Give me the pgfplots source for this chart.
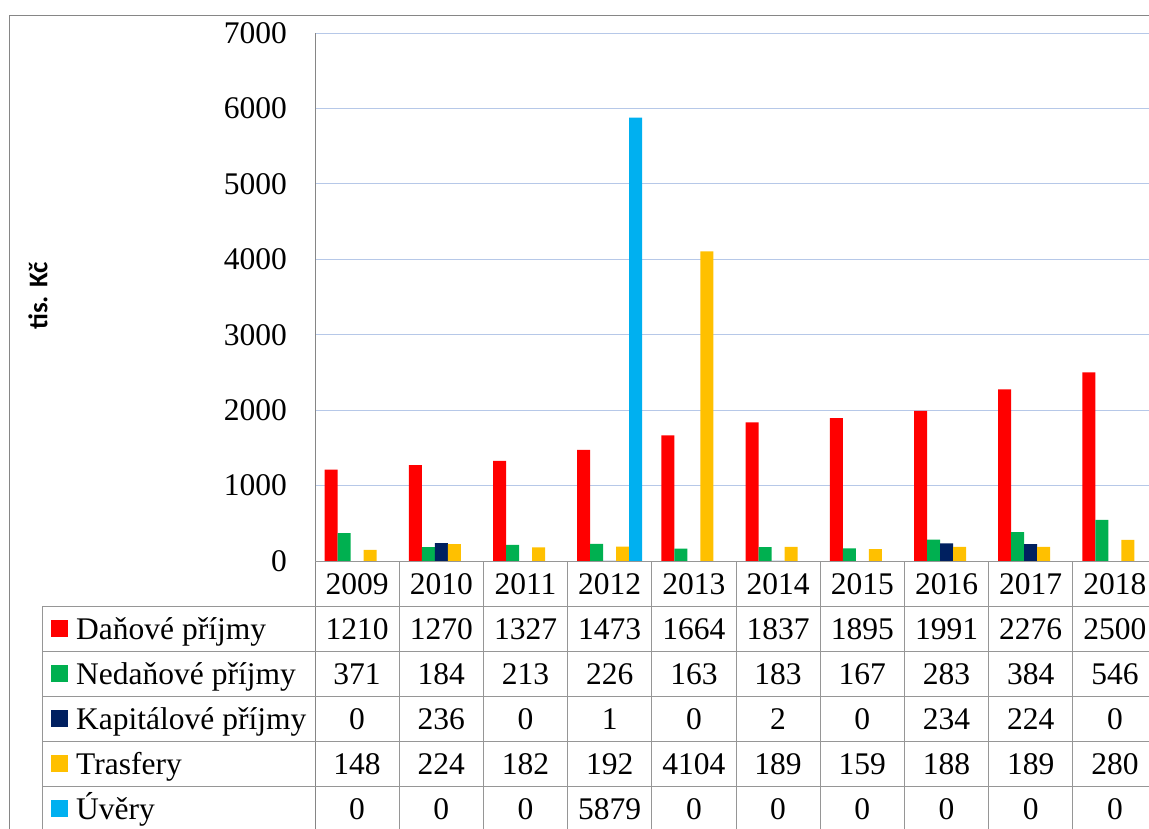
\documentclass[border=0pt]{standalone}
\usepackage{pgfplots}
\pgfplotsset{compat=1.18}
\usepackage{pgfplotstable}
\usepackage{fontspec}
\setmainfont{Liberation Serif}
\newfontfamily\calibri{Carlito}

\definecolor{cDan}{HTML}{FF0000}
\definecolor{cNed}{HTML}{00B050}
\definecolor{cKap}{HTML}{002060}
\definecolor{cTra}{HTML}{FFC000}
\definecolor{cUve}{HTML}{00B0F0}
\definecolor{gridc}{RGB}{182,200,232}
\definecolor{linec}{RGB}{150,150,150}
\definecolor{framec}{RGB}{134,134,134}

\pgfplotstableread{
year dan nedan kap tras uver
2009 1210 371 0 148 0
2010 1270 184 236 224 0
2011 1327 213 0 182 0
2012 1473 226 1 192 5879
2013 1664 163 0 4104 0
2014 1837 183 2 189 0
2015 1895 167 0 159 0
2016 1991 283 234 188 0
2017 2276 384 224 189 0
2018 2500 546 0 280 0
}\datatab

\newcommand\tfont{\fontsize{31.5bp}{38bp}\selectfont}

\begin{document}
\begin{tikzpicture}
% outer frame
\draw[framec, line width=1bp] (9bp,-1000bp) -- (9bp,-15bp) -- (1300bp,-15bp);

\begin{axis}[at={(315bp,-561bp)}, anchor=south west, scale only axis,
  width=842bp, height=528bp,
  xmin=-0.5, xmax=9.5, ymin=0, ymax=7000,
  ytick={0,1000,...,7000}, xtick=\empty,
  ymajorgrids, grid style={gridc, line width=1bp},
  axis line style={draw=none}, major tick length=0pt,
  ybar=0pt, bar width=13bp,
  yticklabel style={font=\tfont, inner sep=0pt, anchor=east, xshift=-28bp},
  /pgf/number format/1000 sep={}, /pgf/number format/assume math mode=true,
  clip=false]
\addplot[fill=cDan, draw=none] table[x expr=\coordindex, y=dan]{\datatab};
\addplot[fill=cNed, draw=none] table[x expr=\coordindex, y=nedan]{\datatab};
\addplot[fill=cKap, draw=none] table[x expr=\coordindex, y=kap]{\datatab};
\addplot[fill=cTra, draw=none] table[x expr=\coordindex, y=tras]{\datatab};
\addplot[fill=cUve, draw=none] table[x expr=\coordindex, y=uver]{\datatab};
\end{axis}

\begin{axis}[at={(315bp,-561bp)}, anchor=north west, scale only axis,
  width=842bp, height=270bp,
  xmin=-0.5, xmax=9.5, ymin=0, ymax=6, y dir=reverse,
  hide axis, clip=false,
  nodes near coords, point meta=explicit symbolic,
  nodes near coords align=center,
  every node near coord/.append style={font=\tfont, text=black, anchor=base, yshift=-11bp, inner sep=0pt}]
\addplot[draw=none, mark=none] table[x expr=\coordindex, y expr=0.5, meta=year]{\datatab};
\addplot[draw=none, mark=none] table[x expr=\coordindex, y expr=1.5, meta=dan]{\datatab};
\addplot[draw=none, mark=none] table[x expr=\coordindex, y expr=2.5, meta=nedan]{\datatab};
\addplot[draw=none, mark=none] table[x expr=\coordindex, y expr=3.5, meta=kap]{\datatab};
\addplot[draw=none, mark=none] table[x expr=\coordindex, y expr=4.5, meta=tras]{\datatab};
\addplot[draw=none, mark=none] table[x expr=\coordindex, y expr=5.5, meta=uver]{\datatab};
\end{axis}

% table lines
\draw[framec, line width=1bp] (315bp,-33bp) -- (315bp,-1000bp);
\begin{scope}[linec, line width=1bp]
\draw (315bp,-561bp) -- (1300bp,-561bp);
\foreach \r in {606,651,696,741,786} {\draw (42bp,-\r bp) -- (1300bp,-\r bp);}
\draw (42bp,-606bp) -- (42bp,-1000bp);
\foreach \k in {1,...,10} {\draw ({(315+84.2*\k)*1bp},-561bp) -- ({(315+84.2*\k)*1bp},-1000bp);}
\end{scope}

% legend labels
\foreach \c/\t [count=\i] in {cDan/Daňové příjmy, cNed/Nedaňové příjmy, cKap/Kapitálové příjmy, cTra/Trasfery, cUve/Úvěry} {
  \pgfmathsetmacro\yc{561+45*(\i+0.5)}
  \fill[\c] (51bp,{-(\yc-8.5)*1bp}) rectangle (68bp,{-(\yc+8.5)*1bp});
  \node[anchor=base west, inner sep=0pt, font=\tfont] at (76bp,{-(\yc+11)*1bp}) {\t};
}

% y axis title
\node[rotate=90, inner sep=0pt, font=\calibri\bfseries\fontsize{27bp}{32bp}\selectfont] at (38bp,-296bp) {tis. Kč};

\pgfresetboundingbox
\useasboundingbox (0,0) rectangle (1149bp,-829bp);
\end{tikzpicture}
\end{document}
